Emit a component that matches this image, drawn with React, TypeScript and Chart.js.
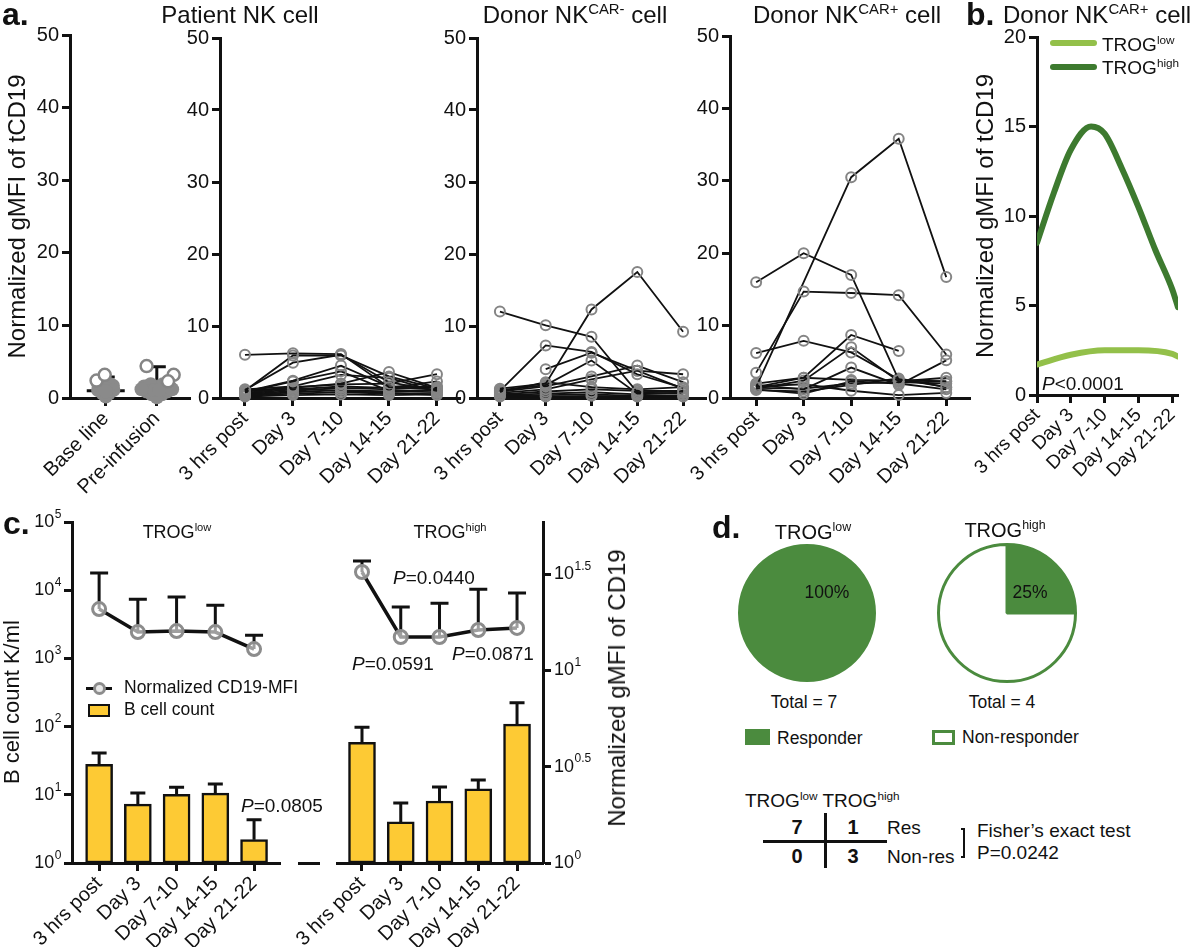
import React, { useEffect, useRef } from 'react';
import { Chart, registerables } from 'chart.js';

Chart.register(...registerables);

const FONT = '"Liberation Sans", Arial, Helvetica, sans-serif';
const INK = '#111111';
const RING = '#858585';
const DOT = '#8a8a8a';
const GREEN = '#4b8b3e';
const TROG_LOW_COLOR = '#93c04a';
const TROG_HIGH_COLOR = '#3d7a2f';
const BAR_YELLOW = '#fdca34';

// ---------------- data ----------------
const timeCats = ['3 hrs post', 'Day 3', 'Day 7-10', 'Day 14-15', 'Day 21-22'];
const preCats = ['Base line', 'Pre-infusion'];
const aTicks = [0, 10, 20, 30, 40, 50];
const bTicks = [0, 5, 10, 15, 20];
const countTickExps = ['0', '1', '2', '3', '4', '5'];
const mfiTickExps = ['0', '0.5', '1', '1.5'];

// a: baseline / pre-infusion (jitter = offset from category, in category units)
const baselineFilledY = [1.7, 1.7, 1.9, 1.9, 1.3, 1.1, 1.1, 0.6, 0.6, 0.2, 0.9];
const baselineFilledJitter = [-0.14, 0.14, -0.08, 0.08, 0, -0.15, 0.15, -0.06, 0.06, 0, 0];
const baselineOpenY = [2.4, 3.2];
const baselineOpenJitter = [-0.18, -0.02];
const preFilledY = [1.6, 1.9, 1.5, 1.9, 1.6, 0.9, 0.9, 0.5, 0.5, 0.1, 1.1, 1.1, 1.2, 1.2];
const preFilledJitter = [-0.25, -0.12, 0, 0.12, 0.25, -0.2, 0.2, -0.1, 0.1, 0, -0.05, 0.05, 0.3, -0.3];
const preOpenY = [4.4, 3.2, 2.3];
const preOpenJitter = [-0.2, 0.33, 0.22];
const preMean = [1.0, 1.2];
const preSdTop = [2.9, 4.3];

// a: Patient NK cell
const patientNK: (number | null)[][] = [
  [6.0, 6.2, 6.1, 1.5, 1.2],
  [1.1, 4.9, 6.0, 2.2, 1.0],
  [1.0, 5.9, 5.9, 3.0, 1.3],
  [0.9, 2.4, 4.5, 1.6, 1.5],
  [0.8, 2.3, 3.7, 1.0, 1.1],
  [1.2, 1.6, 3.2, 2.8, 0.9],
  [0.7, 1.4, 2.0, 3.6, 1.4],
  [0.9, 1.5, 1.9, 2.0, 3.3],
  [0.6, 1.2, 1.6, 1.4, 2.3],
  [0.5, 1.0, 1.4, 1.2, 1.6],
  [0.4, 0.8, 1.1, 0.9, 1.0],
  [0.3, 0.6, 0.8, 0.6, 0.7],
  [0.2, 0.4, 0.5, 0.4, 0.5],
  [1.0, 1.3, 1.0, 0.7, 0.4],
];

// a: Donor NK CAR- cell
const donorCarNeg: (number | null)[][] = [
  [12.0, 10.1, 8.5, 0.8, 0.9],
  [1.3, 2.0, 12.3, 17.5, 9.2],
  [1.0, 7.3, 6.4, 3.3, 1.4],
  [null, 4.0, 6.3, 3.8, 3.3],
  [1.1, 1.8, 5.2, 0.6, 0.7],
  [0.9, 1.6, 3.0, 4.5, 2.2],
  [0.7, 1.2, 2.6, 3.8, 1.3],
  [0.8, 2.2, 1.5, 1.2, 1.5],
  [0.5, 0.9, 1.2, 1.0, 1.0],
  [0.4, 0.6, 0.8, 0.5, 0.7],
  [0.3, 0.4, 0.5, 0.3, 0.4],
  [0.2, 0.2, 0.3, 0.2, 0.2],
];

// a: Donor NK CAR+ cell
const donorCarPos: (number | null)[][] = [
  [16.0, 20.0, 17.0, 2.5, 2.3],
  [3.5, 14.7, 14.5, 14.2, 6.0],
  [1.5, null, 30.5, 35.8, 16.7],
  [6.2, 7.9, 6.3, 2.6, 1.5],
  [1.5, 2.8, 8.7, 6.5, null],
  [1.3, 2.4, 7.0, 2.3, 2.8],
  [1.8, 1.2, 4.2, 1.8, 5.2],
  [2.0, 2.8, 2.5, 2.4, 2.3],
  [1.2, 0.6, 2.3, 2.0, 1.2],
  [1.6, 1.9, 1.0, 0.4, 0.7],
  [1.4, 1.3, 2.0, 2.2, 2.0],
  [1.1, 0.9, 1.8, 2.7, 1.5],
];

// b: fitted curves (x in time-category units)
const trogHighX = [0, 0.5, 1, 1.6, 2, 2.5, 3, 3.5, 4, 4.17];
const trogHighY = [8.5, 11.3, 13.7, 15.0, 14.6, 12.7, 10.5, 8.1, 5.9, 4.9];
const trogLowX = [0, 1, 2, 3, 4, 4.17];
const trogLowY = [1.7, 2.25, 2.5, 2.5, 2.3, 2.15];

// c: B cell count (K/ml) and normalized CD19-MFI
const lowBcell = [28, 7.3, 10.2, 10.6, 2.2];
const lowBcellErr = [41, 10.6, 12.9, 14.4, 4.3];
const lowMfi = [20.8, 15.8, 16.0, 15.8, 12.9];
const lowMfiErr = [32, 23.4, 24.0, 21.8, 15.2];
const highBcell = [59, 4.0, 8.1, 12.2, 109];
const highBcellErr = [98, 7.6, 13, 16.5, 223];
const highMfi = [32.4, 14.9, 14.9, 16.2, 16.6];
const highMfiErr = [36.9, 21.3, 22.3, 26.4, 25.2];
const mfiAxisMax = 58.9;

// d: responders
const responders = [7, 1];
const nonResponders = [0, 3];

// ---------------- helpers ----------------
const tickMarks = {
  display: true,
  drawOnChartArea: false,
  drawTicks: true,
  tickLength: 8,
  tickWidth: 3,
  tickColor: INK,
  offset: false,
};
const axisLine = { display: true, color: INK, width: 3 };

function catAxis(cats: string[], min: number, max: number, h: number, size = 20) {
  return {
    type: 'linear',
    min,
    max,
    offset: false,
    afterBuildTicks: (s: any) => {
      s.ticks = cats.map((_, i) => ({ value: i }));
    },
    afterFit: (s: any) => {
      s.height = h;
    },
    ticks: {
      autoSkip: false,
      maxRotation: 45,
      minRotation: 45,
      padding: 1,
      color: INK,
      font: { family: FONT, size },
      callback: (v: number) => cats[Math.round(v)] ?? '',
    },
    grid: tickMarks,
    border: axisLine,
  };
}

function linYAxis(ticks: number[], w: number, title?: string, titlePad = 0) {
  return {
    type: 'linear',
    min: ticks[0],
    max: ticks[ticks.length - 1],
    afterBuildTicks: (s: any) => {
      s.ticks = ticks.map((v) => ({ value: v }));
    },
    afterFit: (s: any) => {
      s.width = w;
    },
    ticks: { padding: 3, color: INK, font: { family: FONT, size: 20 } },
    grid: tickMarks,
    border: axisLine,
    title: title
      ? { display: true, text: title, color: INK, font: { family: FONT, size: 24 }, padding: { top: titlePad, bottom: 0 } }
      : { display: false },
  };
}

const baseOptions = (pad: any) => ({
  animation: false,
  responsive: false,
  maintainAspectRatio: false,
  events: [],
  layout: { padding: pad },
  plugins: { legend: { display: false }, tooltip: { enabled: false } },
});

const toPts = (vals: (number | null)[]) => vals.map((v, i) => ({ x: i, y: v }));

function errorBars(specs: { ds: number; tops: number[]; cap: number }[]) {
  return {
    id: 'errbars',
    beforeDatasetsDraw(chart: any) {
      const ctx = chart.ctx;
      specs.forEach((sp) => {
        const meta = chart.getDatasetMeta(sp.ds);
        const scale = chart.scales[meta.yAxisID];
        ctx.save();
        ctx.strokeStyle = INK;
        ctx.lineWidth = 3;
        meta.data.forEach((el: any, i: number) => {
          const top = sp.tops[i];
          if (top == null) return;
          const yt = scale.getPixelForValue(top);
          ctx.beginPath();
          ctx.moveTo(el.x, el.y);
          ctx.lineTo(el.x, yt);
          ctx.moveTo(el.x - sp.cap / 2, yt);
          ctx.lineTo(el.x + sp.cap / 2, yt);
          ctx.stroke();
        });
        ctx.restore();
      });
    },
  };
}

function supTicks(scaleId: string, side: 'left' | 'right', exps: string[], size = 18, gap = 11) {
  return {
    id: 'supticks',
    afterDraw(chart: any) {
      const sc = chart.scales[scaleId];
      const ctx = chart.ctx;
      const es = Math.round(size * 0.64);
      ctx.save();
      ctx.fillStyle = INK;
      ctx.textBaseline = 'middle';
      ctx.textAlign = 'left';
      exps.forEach((e) => {
        const y = sc.getPixelForValue(Math.pow(10, Number(e)));
        ctx.font = `${size}px ${FONT}`;
        const wb = ctx.measureText('10').width;
        ctx.font = `${es}px ${FONT}`;
        const we = ctx.measureText(e).width;
        const x0 = side === 'left' ? sc.right - gap - wb - we : sc.left + gap;
        ctx.font = `${size}px ${FONT}`;
        ctx.fillText('10', x0, y);
        ctx.font = `${es}px ${FONT}`;
        ctx.fillText(e, x0 + wb + 0.5, y - size * 0.42);
      });
      ctx.restore();
    },
  };
}

const meanSd = {
  id: 'meansd',
  beforeDatasetsDraw(chart: any) {
    const { ctx } = chart;
    const x = chart.scales.x;
    const y = chart.scales.y;
    ctx.save();
    ctx.strokeStyle = INK;
    ctx.lineWidth = 3;
    preMean.forEach((m, i) => {
      const cx = x.getPixelForValue(i);
      const ym = y.getPixelForValue(m);
      const ys = y.getPixelForValue(preSdTop[i]);
      ctx.beginPath();
      ctx.moveTo(cx - 19, ym);
      ctx.lineTo(cx + 19, ym);
      ctx.moveTo(cx, ym);
      ctx.lineTo(cx, ys);
      ctx.moveTo(cx - 9, ys);
      ctx.lineTo(cx + 9, ys);
      ctx.stroke();
    });
    ctx.restore();
  },
};

// ---------------- chart configs ----------------
function makeA1() {
  const jit = (ys: number[], js: number[], c: number) => ys.map((v, i) => ({ x: c + js[i], y: v }));
  return {
    type: 'scatter',
    data: {
      datasets: [
        {
          data: [...jit(baselineOpenY, baselineOpenJitter, 0), ...jit(preOpenY, preOpenJitter, 1)],
          pointRadius: 6,
          pointBorderWidth: 2.5,
          pointBorderColor: RING,
          pointBackgroundColor: '#ffffff',
          clip: false,
        },
        {
          data: [...jit(baselineFilledY, baselineFilledJitter, 0), ...jit(preFilledY, preFilledJitter, 1)],
          pointRadius: 7,
          pointBorderWidth: 0,
          pointBackgroundColor: DOT,
          pointBorderColor: DOT,
          clip: false,
        },
      ],
    },
    options: {
      ...baseOptions({ left: 0, top: 35, right: 10, bottom: 0 }),
      scales: {
        x: catAxis(preCats, -0.7, 1.65, 102),
        y: linYAxis(aTicks, 70, 'Normalized gMFI of tCD19', 4),
      },
    },
    plugins: [meanSd],
  };
}

function makeLines(series: (number | null)[][], xmin: number, xmax: number, yW: number, top: number, right: number) {
  return {
    type: 'line',
    data: {
      datasets: series.map((s) => ({
        data: toPts(s),
        borderColor: INK,
        borderWidth: 1.8,
        pointRadius: 5,
        pointBorderWidth: 2,
        pointBorderColor: RING,
        pointBackgroundColor: 'rgba(0,0,0,0)',
        spanGaps: true,
        tension: 0,
        clip: false,
      })),
    },
    options: {
      ...baseOptions({ left: 0, top, right, bottom: 0 }),
      scales: {
        x: catAxis(timeCats, xmin, xmax, 102),
        y: linYAxis(aTicks, yW),
      },
    },
  };
}

function makeB() {
  const pts = (xs: number[], ys: number[]) => xs.map((x, i) => ({ x, y: ys[i] }));
  const style = (c: string) => ({
    borderColor: c,
    borderWidth: 6,
    pointRadius: 0,
    cubicInterpolationMode: 'monotone',
    borderCapStyle: 'round',
  });
  return {
    type: 'line',
    data: {
      datasets: [
        { label: 'TROG high', data: pts(trogHighX, trogHighY), ...style(TROG_HIGH_COLOR) },
        { label: 'TROG low', data: pts(trogLowX, trogLowY), ...style(TROG_LOW_COLOR) },
      ],
    },
    options: {
      ...baseOptions({ left: 0, top: 37, right: 22, bottom: 0 }),
      scales: {
        x: catAxis(timeCats, 0, 4.17, 105, 19),
        y: linYAxis(bTicks, 77, 'Normalized gMFI of tCD19', 12),
      },
    },
  };
}

function makeC(b: number[], bErr: number[], m: number[], mErr: number[], right: boolean) {
  return {
    type: 'bar',
    data: {
      datasets: [
        {
          type: 'line',
          yAxisID: 'y2',
          data: toPts(m),
          borderColor: INK,
          borderWidth: 3.5,
          pointRadius: 6.5,
          pointBorderWidth: 3,
          pointBorderColor: '#8c8c8c',
          pointBackgroundColor: 'rgba(255,255,255,0.6)',
          clip: false,
        },
        {
          type: 'bar',
          yAxisID: 'y',
          data: toPts(b),
          backgroundColor: BAR_YELLOW,
          borderColor: INK,
          borderWidth: 2.5,
          borderSkipped: false,
          barThickness: 27,
        },
      ],
    },
    options: {
      ...baseOptions(right ? { left: 47, top: 22, right: 0, bottom: 0 } : { left: 0, top: 22, right: 60, bottom: 0 }),
      scales: {
        x: catAxis(timeCats, right ? -0.645 : -0.7, 4.67, 84, 20),
        y: {
          type: 'logarithmic',
          display: !right,
          min: 1,
          max: 1e5,
          afterBuildTicks: (s: any) => {
            s.ticks = countTickExps.map((e) => ({ value: Math.pow(10, Number(e)) }));
          },
          afterFit: (s: any) => {
            s.width = right ? 0 : 72;
          },
          ticks: { callback: () => '' },
          grid: tickMarks,
          border: axisLine,
        },
        y2: {
          type: 'logarithmic',
          position: 'right',
          display: right,
          min: 1,
          max: mfiAxisMax,
          afterBuildTicks: (s: any) => {
            s.ticks = mfiTickExps.map((e) => ({ value: Math.pow(10, Number(e)) }));
          },
          afterFit: (s: any) => {
            s.width = right ? 107 : 0;
          },
          ticks: { callback: () => '' },
          grid: tickMarks,
          border: axisLine,
        },
      },
    },
    plugins: [
      errorBars([
        { ds: 0, tops: mErr, cap: 18 },
        { ds: 1, tops: bErr, cap: 15 },
      ]),
      right ? supTicks('y2', 'right', mfiTickExps, 18, 11) : supTicks('y', 'left', countTickExps, 18, 11),
    ],
  };
}

function makePie(i: number, border: number, pad: number) {
  return {
    type: 'pie',
    data: {
      labels: ['Responder', 'Non-responder'],
      datasets: [
        {
          data: [responders[i], nonResponders[i]],
          backgroundColor: [GREEN, '#ffffff'],
          borderColor: GREEN,
          borderWidth: border,
        },
      ],
    },
    options: baseOptions({ left: pad, top: pad, right: pad, bottom: pad }),
  };
}

// ---------------- components ----------------
function ChartBox({ x, y, w, h, make }: { x: number; y: number; w: number; h: number; make: () => any }) {
  const ref = useRef<HTMLCanvasElement>(null);
  useEffect(() => {
    const chart = new Chart(ref.current as HTMLCanvasElement, make());
    return () => chart.destroy();
  }, []);
  return (
    <canvas
      ref={ref}
      width={w}
      height={h}
      style={{ position: 'absolute', left: x, top: y, width: w, height: h }}
    />
  );
}

function Txt({
  x,
  y,
  size,
  anchor = 'left',
  bold,
  italic,
  rot,
  children,
}: {
  x: number;
  y: number;
  size: number;
  anchor?: 'left' | 'center' | 'right';
  bold?: boolean;
  italic?: boolean;
  rot?: boolean;
  children: React.ReactNode;
}) {
  const tr = rot
    ? 'translate(-50%,-50%) rotate(-90deg)'
    : anchor === 'center'
    ? 'translate(-50%,-50%)'
    : anchor === 'right'
    ? 'translate(-100%,-50%)'
    : 'translateY(-50%)';
  return (
    <div
      style={{
        position: 'absolute',
        left: x,
        top: y,
        transform: tr,
        fontSize: size,
        fontWeight: bold ? 700 : 400,
        fontStyle: italic ? 'italic' : 'normal',
        lineHeight: 1,
        whiteSpace: 'nowrap',
        fontFamily: FONT,
        color: INK,
      }}
    >
      {children}
    </div>
  );
}

const Sup = ({ children }: { children: React.ReactNode }) => (
  <sup style={{ fontSize: '0.62em', verticalAlign: 'baseline', position: 'relative', top: '-0.62em' }}>{children}</sup>
);

const PVal = ({ v }: { v: string }) => (
  <>
    <i>P</i>
    {v}
  </>
);

export default function App() {
  return (
    <div
      style={{
        position: 'absolute',
        left: 0,
        top: 0,
        width: 1200,
        height: 947,
        background: '#ffffff',
        overflow: 'hidden',
        fontFamily: FONT,
      }}
    >
      {/* panel a */}
      <ChartBox x={0} y={0} w={200} h={500} make={makeA1} />
      <ChartBox x={170} y={0} w={300} h={500} make={() => makeLines(patientNK, -0.52, 4.48, 50, 38, 10)} />
      <ChartBox x={430} y={0} w={285} h={500} make={() => makeLines(donorCarNeg, -0.5, 4.5, 47, 38, 9)} />
      <ChartBox x={680} y={0} w={300} h={500} make={() => makeLines(donorCarPos, -0.55, 4.5, 50, 36, 10)} />
      {/* panel b */}
      <ChartBox x={960} y={0} w={240} h={500} make={makeB} />
      {/* panel c */}
      <ChartBox x={0} y={500} w={340} h={447} make={() => makeC(lowBcell, lowBcellErr, lowMfi, lowMfiErr, false)} />
      <ChartBox x={290} y={500} w={360} h={447} make={() => makeC(highBcell, highBcellErr, highMfi, highMfiErr, true)} />
      {/* panel d */}
      <ChartBox x={732} y={538} w={150} h={150} make={() => makePie(0, 0, 6)} />
      <ChartBox x={932} y={538} w={150} h={150} make={() => makePie(1, 3, 5)} />

      {/* panel letters */}
      <Txt x={2} y={14} size={32} bold>a.</Txt>
      <Txt x={966} y={14} size={32} bold>b.</Txt>
      <Txt x={3} y={523} size={32} bold>c.</Txt>
      <Txt x={712} y={527} size={32} bold>d.</Txt>

      {/* a titles */}
      <Txt x={240} y={15} size={24} anchor="center">Patient NK cell</Txt>
      <Txt x={575} y={15} size={24} anchor="center">
        Donor NK<Sup>CAR-</Sup> cell
      </Txt>
      <Txt x={847} y={15} size={24} anchor="center">
        Donor NK<Sup>CAR+</Sup> cell
      </Txt>

      {/* b */}
      <Txt x={1003} y={15} size={24}>
        Donor NK<Sup>CAR+</Sup> cell
      </Txt>
      <div style={{ position: 'absolute', left: 1050, top: 40, width: 47, height: 6, borderRadius: 3, background: TROG_LOW_COLOR }} />
      <div style={{ position: 'absolute', left: 1050, top: 64, width: 47, height: 6, borderRadius: 3, background: TROG_HIGH_COLOR }} />
      <Txt x={1102} y={44} size={19}>
        TROG<Sup>low</Sup>
      </Txt>
      <Txt x={1102} y={67} size={19}>
        TROG<Sup>high</Sup>
      </Txt>
      <Txt x={1042} y={383} size={19}>
        <PVal v="<0.0001" />
      </Txt>

      {/* c */}
      <Txt x={12} y={702} size={22} rot>B cell count K/ml</Txt>
      <Txt x={617} y={688} size={24} rot>Normalized gMFI of CD19</Txt>
      <Txt x={177} y={532} size={18} anchor="center">
        TROG<Sup>low</Sup>
      </Txt>
      <Txt x={450} y={532} size={18} anchor="center">
        TROG<Sup>high</Sup>
      </Txt>
      <Txt x={241} y={805} size={19}>
        <PVal v="=0.0805" />
      </Txt>
      <Txt x={393} y={577} size={19}>
        <PVal v="=0.0440" />
      </Txt>
      <Txt x={352} y={663} size={19}>
        <PVal v="=0.0591" />
      </Txt>
      <Txt x={452} y={653} size={19}>
        <PVal v="=0.0871" />
      </Txt>
      {/* c legend */}
      <div style={{ position: 'absolute', left: 86, top: 687, width: 26, height: 3, background: INK }} />
      <div
        style={{
          position: 'absolute',
          left: 93,
          top: 682,
          width: 13,
          height: 13,
          boxSizing: 'border-box',
          borderRadius: '50%',
          border: '3px solid #8c8c8c',
          background: '#e8e8e8',
        }}
      />
      <div
        style={{
          position: 'absolute',
          left: 88,
          top: 704,
          width: 22,
          height: 13,
          boxSizing: 'border-box',
          border: `2.5px solid ${INK}`,
          background: BAR_YELLOW,
        }}
      />
      <Txt x={124} y={688} size={17.5}>Normalized CD19-MFI</Txt>
      <Txt x={124} y={710} size={17.5}>B cell count</Txt>
      {/* axis break mark */}
      <div style={{ position: 'absolute', left: 298, top: 862, width: 22, height: 2.5, background: INK }} />

      {/* d */}
      <Txt x={813} y={532} size={20} anchor="center">
        TROG<Sup>low</Sup>
      </Txt>
      <Txt x={1005} y={530} size={20} anchor="center">
        TROG<Sup>high</Sup>
      </Txt>
      <Txt x={827} y={593} size={17.5} anchor="center">100%</Txt>
      <Txt x={1030} y={593} size={17.5} anchor="center">25%</Txt>
      <Txt x={804} y={703} size={17.5} anchor="center">
        Total = {responders[0] + nonResponders[0]}
      </Txt>
      <Txt x={1002} y={703} size={17.5} anchor="center">
        Total = {responders[1] + nonResponders[1]}
      </Txt>
      <div style={{ position: 'absolute', left: 745, top: 729, width: 25, height: 16, background: GREEN }} />
      <Txt x={777} y={739} size={17.5}>Responder</Txt>
      <div
        style={{
          position: 'absolute',
          left: 932,
          top: 730,
          width: 23,
          height: 15,
          boxSizing: 'border-box',
          border: `3px solid ${GREEN}`,
          background: '#fff',
        }}
      />
      <Txt x={962} y={738} size={17.5}>Non-responder</Txt>

      {/* contingency table */}
      <Txt x={745} y={800} size={19}>
        TROG<Sup>low</Sup> TROG<Sup>high</Sup>
      </Txt>
      <Txt x={797} y={827} size={20} bold anchor="center">{responders[0]}</Txt>
      <Txt x={853} y={827} size={20} bold anchor="center">{responders[1]}</Txt>
      <Txt x={797} y={856} size={20} bold anchor="center">{nonResponders[0]}</Txt>
      <Txt x={853} y={856} size={20} bold anchor="center">{nonResponders[1]}</Txt>
      <Txt x={887} y={827} size={19}>Res</Txt>
      <Txt x={887} y={856} size={19}>Non-res</Txt>
      <div style={{ position: 'absolute', left: 763, top: 840, width: 124, height: 2.5, background: INK }} />
      <div style={{ position: 'absolute', left: 824, top: 813, width: 2.5, height: 55, background: INK }} />
      <div
        style={{
          position: 'absolute',
          left: 961,
          top: 828,
          width: 4,
          height: 30,
          boxSizing: 'border-box',
          borderTop: `2px solid ${INK}`,
          borderRight: `2px solid ${INK}`,
          borderBottom: `2px solid ${INK}`,
        }}
      />
      <Txt x={977} y={830} size={19}>Fisher’s exact test</Txt>
      <Txt x={977} y={852} size={19}>P=0.0242</Txt>
    </div>
  );
}
